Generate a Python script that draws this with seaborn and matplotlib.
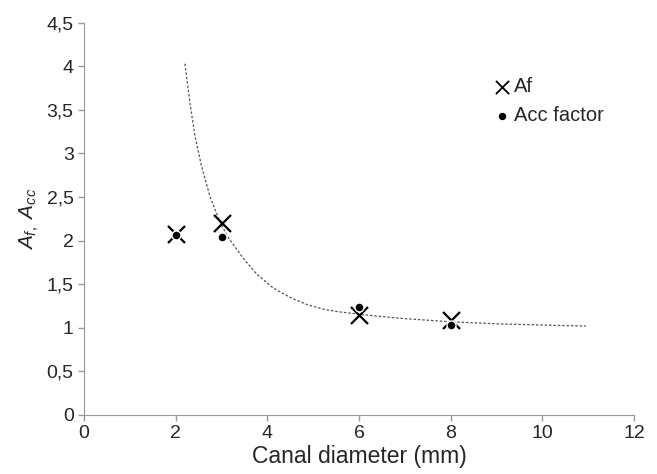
import pandas as pd
import matplotlib
matplotlib.use('Agg')
import matplotlib.pyplot as plt
import seaborn as sns

# measured points
diam = [2, 3, 6, 8]
af = [2.08, 2.20, 1.15, 1.09]
acc = [2.07, 2.04, 1.24, 1.03]

# dotted trend curve
curve_x = [2.20, 2.31, 2.42, 2.56, 2.75, 2.96, 3.14, 3.47, 3.76, 4.12, 4.49,
           4.85, 5.21, 5.54, 6.01, 6.88, 7.97, 9.06, 10.15, 10.95]
curve_y = [4.03, 3.58, 3.20, 2.86, 2.50, 2.22, 2.04, 1.80, 1.62, 1.46, 1.35,
           1.27, 1.215, 1.185, 1.155, 1.11, 1.07, 1.045, 1.03, 1.02]

xticks = [0, 2, 4, 6, 8, 10, 12]
yticks = [0, 0.5, 1, 1.5, 2, 2.5, 3, 3.5, 4, 4.5]
ytick_labels = ['0', '0,5', '1', '1,5', '2', '2,5', '3', '3,5', '4', '4,5']

sns.set_style('ticks')
plt.rcParams['font.family'] = ['Liberation Sans', 'DejaVu Sans']
plt.rcParams['mathtext.fontset'] = 'custom'
plt.rcParams['mathtext.it'] = 'Liberation Sans:italic'
plt.rcParams['mathtext.rm'] = 'Liberation Sans'

pts = pd.DataFrame({'d': diam, 'Af': af, 'Acc': acc})
trend = pd.DataFrame({'d': curve_x, 'y': curve_y})

fig, ax = plt.subplots(figsize=(6.57, 4.74), dpi=100)
fig.subplots_adjust(left=0.128, right=0.965, bottom=0.1245, top=0.952)

sns.lineplot(x='d', y='y', data=trend, ax=ax, color='#555555', linewidth=0.9,
             linestyle=(0, (2, 1.5)), legend=False, sort=True)
sns.scatterplot(x='d', y='Af', data=pts, ax=ax, marker='x', s=150, color='black',
                linewidth=1.6, label='Af', zorder=3)
sns.scatterplot(x='d', y='Acc', data=pts, ax=ax, marker='o', s=42, color='black',
                edgecolor='white', linewidth=1.0, label='Acc factor', zorder=4)

ax.set_xlim(0, 12)
ax.set_ylim(0, 4.5)
ax.set_xticks(xticks)
ax.set_yticks(yticks)
ax.set_yticklabels(ytick_labels)
ax.tick_params(labelsize=14, color='#999999', length=4, width=1)
ax.set_xlabel('Canal diameter (mm)', fontsize=16.5, labelpad=2)
ax.set_ylabel(r'$A_{f,}\ A_{cc}$', fontsize=15, labelpad=4)
sns.despine(ax=ax)
for s in ['left', 'bottom']:
    ax.spines[s].set_color('#999999')

leg = ax.legend(loc='upper left', bbox_to_anchor=(0.715, 0.908), frameon=False,
                fontsize=14.5, handlelength=0.7, handletextpad=0.2, labelspacing=0.5)
hs = leg.legend_handles
hs[0].set_sizes([90])
hs[0].set_linewidth(1.3)
hs[1].set_sizes([40])
plt.savefig('out.png', dpi=100)
